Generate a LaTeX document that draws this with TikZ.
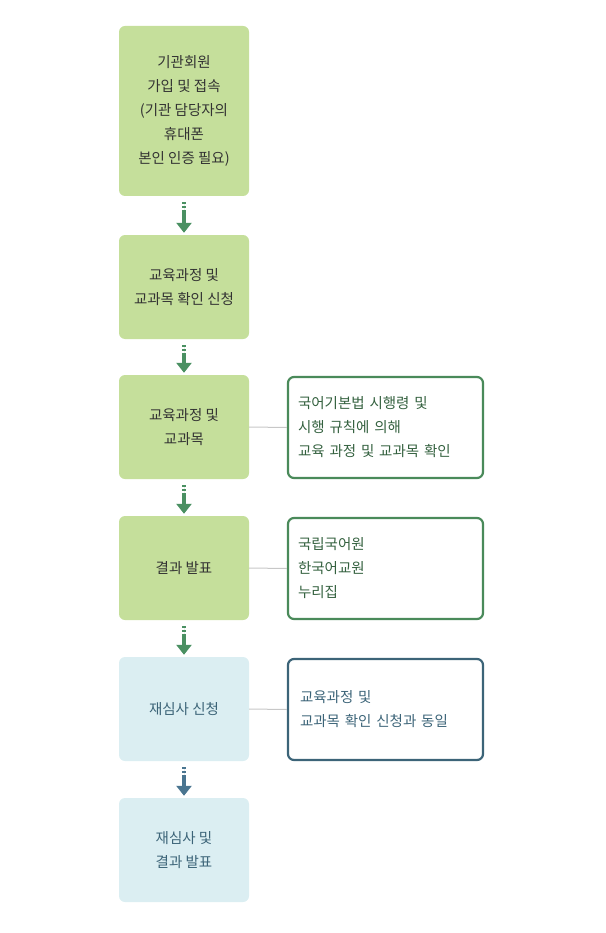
\documentclass[tikz,border=0pt]{standalone}
\usepackage{fontspec}
\setmainfont{Noto Sans CJK KR}
\usetikzlibrary{arrows.meta,positioning}
\definecolor{stepgreen}{HTML}{C5DF9B}
\definecolor{stepblue}{HTML}{DBEEF2}
\definecolor{arrgreen}{HTML}{4A9062}
\definecolor{arrblue}{HTML}{4A7590}
\definecolor{notegreen}{HTML}{4A8A5A}
\definecolor{noteblue}{HTML}{3C6478}
\tikzset{
  stage/.style={rounded corners=6pt,minimum width=130pt,align=center,text=black!80,font=\fontsize{14.5}{24}\selectfont},
  note/.style={draw,line width=2.2pt,rounded corners=6pt,minimum width=195pt,minimum height=101pt,align=left,text width=175pt,font=\fontsize{14.5}{24}\selectfont},
  flow/.style={line width=4pt,-{Triangle[length=10pt,width=15pt]}},
  link/.style={draw=black!22,line width=1pt}
}
\begin{document}
\begin{tikzpicture}[x=1pt,y=-1pt]
\useasboundingbox (0,0) rectangle (605,933);
\node[stage,fill=stepgreen,minimum height=170pt] (s1) at (184,111) {기관회원\\가입 및 접속\\(기관 담당자의\\휴대폰\\본인 인증 필요)};
\node[stage,fill=stepgreen,minimum height=104pt] (s2) at (184,287) {교육과정 및\\교과목 확인 신청};
\node[stage,fill=stepgreen,minimum height=104pt] (s3) at (184,427) {교육과정 및\\교과목};
\node[stage,fill=stepgreen,minimum height=104pt] (s4) at (184,568) {결과 발표};
\node[stage,fill=stepblue,text=noteblue,minimum height=104pt] (s5) at (184,709) {재심사 신청};
\node[stage,fill=stepblue,text=noteblue,minimum height=104pt] (s6) at (184,850) {재심사 및\\결과 발표};

\node[note,draw=notegreen,text=notegreen!70!black] (n3) at (385.5,427.5) {국어기본법 시행령 및\\시행 규칙에 의해\\교육 과정 및 교과목 확인};
\node[note,draw=notegreen,text=notegreen!70!black] (n4) at (385.5,568.5) {국립국어원\\한국어교원\\누리집};
\node[note,draw=noteblue,text=noteblue] (n5) at (385.5,709.5) {\hspace{2pt}교육과정 및\\\hspace{2pt}교과목 확인 신청과 동일};

% --- connectors ---
\foreach \a/\b in {s1/s2,s2/s3,s3/s4,s4/s5}
  \draw[flow,draw=arrgreen,fill=arrgreen,dash pattern=on 2pt off 2pt on 2pt off 2pt on 40pt] ([yshift=-6pt]\a.south) -- ([yshift=2pt]\b.north);
\draw[flow,draw=arrblue,fill=arrblue,dash pattern=on 2pt off 2pt on 2pt off 2pt on 40pt] ([yshift=-6pt]s5.south) -- ([yshift=2pt]s6.north);
\foreach \a/\b in {s3/n3,s4/n4,s5/n5}
  \draw[link] (\a.east) -- (\b.west);
\end{tikzpicture}
\end{document}
